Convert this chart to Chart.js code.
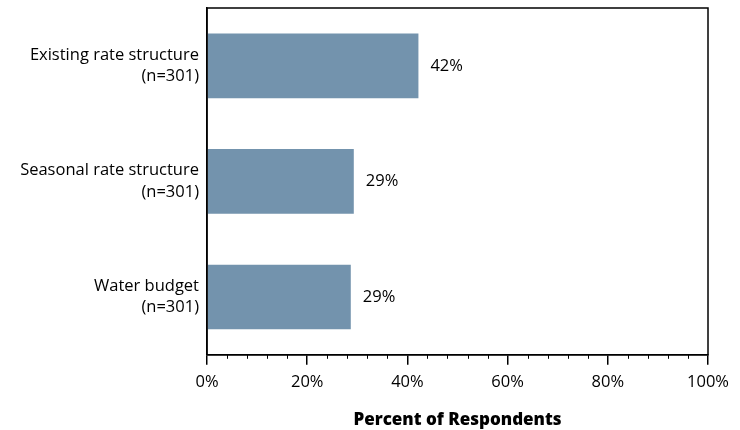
<!DOCTYPE html>
<html>
<head>
<meta charset="utf-8">
<script src="https://cdn.jsdelivr.net/npm/chart.js@4"></script>
<style>
  html, body { margin: 0; padding: 0; background: #fff; }
  #wrap { width: 740px; height: 430px; }
</style>
</head>
<body>
<div id="wrap"><canvas id="myChart"></canvas></div>
<script>
// data
const categories = [
  ['Existing rate structure', '(n=301)'],
  ['Seasonal rate structure', '(n=301)'],
  ['Water budget', '(n=301)']
];
const percents = [42.2, 29.3, 28.7];
const percentLabels = ['42%', '29%', '29%'];
const xTicks = [0, 20, 40, 60, 80, 100];
const minorStep = 4;

const fontFamily = '"Open Sans", "DejaVu Sans", sans-serif';

// frame + minor ticks + value labels
const extras = {
  id: 'extras',
  afterDraw(chart) {
    const ctx = chart.ctx;
    const a = chart.chartArea;
    const x = chart.scales.x;
    ctx.save();
    ctx.strokeStyle = '#000';
    ctx.lineWidth = 1.5;
    ctx.strokeRect(a.left, a.top, a.right - a.left, a.bottom - a.top);
    // minor ticks
    ctx.lineWidth = 1;
    for (let v = 0; v <= 100; v += minorStep) {
      if (v % 20 === 0) continue;
      const px = Math.round(x.getPixelForValue(v)) + 0.5;
      ctx.beginPath();
      ctx.moveTo(px, a.bottom);
      ctx.lineTo(px, a.bottom + 4);
      ctx.stroke();
    }
    // labels
    ctx.fillStyle = '#000';
    ctx.font = '16.5px ' + fontFamily;
    ctx.textBaseline = 'middle';
    ctx.textAlign = 'left';
    chart.getDatasetMeta(0).data.forEach((bar, i) => {
      ctx.fillText(percentLabels[i], bar.x + 12, bar.y);
    });
    ctx.restore();
  }
};

function createChart() {
  const ctx = document.getElementById('myChart').getContext('2d');
  new Chart(ctx, {
    type: 'bar',
    data: {
      labels: categories,
      datasets: [{
        data: percents,
        backgroundColor: '#7393ad',
        borderWidth: 0,
        categoryPercentage: 1,
        barPercentage: 0.56
      }]
    },
    options: {
      indexAxis: 'y',
      responsive: true,
      maintainAspectRatio: false,
      animation: false,
      layout: { padding: { top: 8, right: 32, left: 0, bottom: 0 } },
      plugins: {
        legend: { display: false },
        tooltip: { enabled: false }
      },
      scales: {
        x: {
          min: 0,
          max: 100,
          afterBuildTicks(scale) {
            scale.ticks = xTicks.map(v => ({ value: v }));
          },
          ticks: {
            color: '#000',
            font: { family: fontFamily, size: 16.5 },
            padding: 8,
            maxRotation: 0,
            callback: v => v + '%'
          },
          grid: {
            display: true,
            drawOnChartArea: false,
            drawTicks: true,
            tickLength: 10,
            color: '#000',
            lineWidth: 1.5
          },
          border: { display: true, color: '#000', width: 1.5 },
          title: {
            display: true,
            text: 'Percent of Respondents',
            color: '#000',
            font: { family: fontFamily, size: 17, weight: '800' },
            padding: { top: 9, bottom: 0 }
          }
        },
        y: {
          afterFit(scale) {
            scale.width = 207;
            scale.paddingTop = 0;
            scale.paddingBottom = 0;
          },
          ticks: {
            color: '#000',
            font: { family: fontFamily, size: 16.5, lineHeight: 1.3 },
            padding: 8
          },
          grid: { display: false, drawTicks: false },
          border: { display: true, color: '#000', width: 1.5 }
        }
      }
    },
    plugins: [extras]
  });
}

window.onload = function () {
  createChart();
};
</script>
</body>
</html>
